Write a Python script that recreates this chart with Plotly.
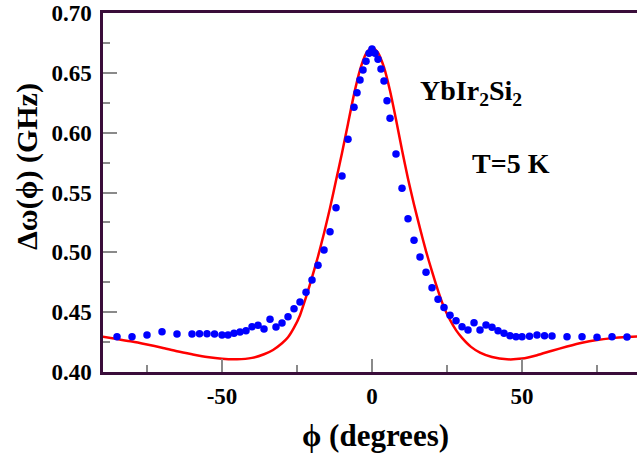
import plotly.graph_objects as go

# measured data (blue dots)
phi_data = [-85, -80, -75, -70, -65, -60, -57.5, -55, -52.5, -50, -48, -46, -44, -42,
            -40, -38, -36, -34, -32, -30, -28, -26, -24, -22, -20, -18, -16, -14,
            -12, -10, -8, -6, -5, -4, -3, -2, -1, 0, 1, 2, 3, 4, 5, 6, 8, 10, 12,
            14, 16, 18, 20, 22, 24, 26, 28, 30, 32, 34, 36, 38, 40, 42, 44, 46, 48,
            50, 52.5, 55, 57.5, 60, 65, 70, 75, 80, 85]
dw_data = [0.4295, 0.4295, 0.4310, 0.4337, 0.4317, 0.4317, 0.4320, 0.4320, 0.4317, 0.4309,
           0.4309, 0.4323, 0.4334, 0.4345, 0.4378, 0.4390, 0.4359, 0.4440, 0.4376, 0.4410,
           0.4462, 0.4529, 0.4585, 0.4666, 0.4769, 0.4892, 0.5019, 0.5172, 0.5373, 0.5638,
           0.5945, 0.6212, 0.6334, 0.6440, 0.6524, 0.6596, 0.6663, 0.6699, 0.6663, 0.6613,
           0.6532, 0.6432, 0.6267, 0.6120, 0.5822, 0.5535, 0.5281, 0.5102, 0.4962, 0.4833,
           0.4704, 0.4608, 0.4538, 0.4475, 0.4429, 0.4378, 0.4351, 0.4412, 0.4351, 0.4393,
           0.4373, 0.4345, 0.4323, 0.4303, 0.4295, 0.4295, 0.4298, 0.4309, 0.4303, 0.4300,
           0.4295, 0.4295, 0.4290, 0.4295, 0.4292]

# model curve (red line)
phi_fit = [-90, -85, -80, -75, -70, -65, -60, -55, -50, -45, -40, -36, -33, -30, -28,
           -26, -24, -22, -20, -18, -16, -14, -12, -10, -8, -6, -4, -2, 0,
           2, 4, 6, 8, 10, 12, 14, 16, 18, 20, 22, 24, 26, 28, 30, 33, 36, 40,
           45, 50, 55, 60, 65, 70, 75, 80, 85, 90]
dw_fit = [0.4295, 0.4275, 0.4255, 0.4230, 0.4203, 0.4173, 0.4148, 0.4125, 0.4110, 0.4106,
          0.4118, 0.4148, 0.4184, 0.4240, 0.4290, 0.4370, 0.4475, 0.4625, 0.4790, 0.4965,
          0.5160, 0.5370, 0.5600, 0.5830, 0.6075, 0.6320, 0.6525, 0.6660, 0.6716,
          0.6668, 0.6545, 0.6350, 0.6110, 0.5855, 0.5615, 0.5400, 0.5200, 0.5010, 0.4840,
          0.4680, 0.4540, 0.4435, 0.4350, 0.4285, 0.4210, 0.4162, 0.4125, 0.4106, 0.4112,
          0.4140, 0.4178, 0.4213, 0.4245, 0.4268, 0.4283, 0.4293, 0.4300]

x_ticks = [-50, 0, 50]
y_ticks = [0.40, 0.45, 0.50, 0.55, 0.60, 0.65, 0.70]
y_ticklabels = ["0.40", "0.45", "0.50", "0.55", "0.60", "0.65", "0.70"]

W, H = 637, 454
ML, MR, MT, MB = 103, 0, 13, 82
FONT = "Liberation Serif"
AXC = "#3a0d3a"
TICKC = "#8a8a8a"

fig = go.Figure()
fig.add_trace(go.Scatter(x=phi_fit, y=dw_fit, mode="lines",
                         line=dict(color="#ff0000", width=2.5, shape="spline", smoothing=0.6),
                         hoverinfo="skip", showlegend=False))
fig.add_trace(go.Scatter(x=phi_data, y=dw_data, mode="markers",
                         marker=dict(color="#0000ff", size=7.5, line=dict(width=0)),
                         showlegend=False))

pw = W - ML - MR
ph = H - MT - MB

def px_x(p):
    return (p - ML) / pw

def px_y(p):
    return 1 - (p - MT) / ph

tickfont = dict(family=FONT, size=23, color="black", weight="bold")

fig.update_layout(
    width=W, height=H,
    margin=dict(l=ML, r=MR, t=MT, b=MB, autoexpand=False),
    paper_bgcolor="white", plot_bgcolor="white",
    font=dict(family=FONT, size=21, color="black", weight="bold"),
    xaxis=dict(range=[-89.67, 88.33], tickmode="array", tickvals=x_ticks,
               ticktext=[str(v) for v in x_ticks], automargin=False,
               showgrid=False, zeroline=False,
               showline=True, linecolor=AXC, linewidth=2.5, mirror=True,
               ticks="inside", ticklen=13, tickwidth=1.5, tickcolor=TICKC,
               ticklabelstandoff=2,
               minor=dict(tickvals=[-75, -25, 25, 75], ticks="inside", ticklen=7,
                          tickwidth=1.5, tickcolor=TICKC, showgrid=False),
               tickfont=tickfont),
    yaxis=dict(range=[0.40, 0.70], tickmode="array", tickvals=y_ticks,
               ticktext=y_ticklabels, automargin=False,
               showgrid=False, zeroline=False,
               showline=True, linecolor=AXC, linewidth=2.5, mirror=False,
               ticks="inside", ticklen=14, tickwidth=1.5, tickcolor=TICKC,
               ticklabelstandoff=4,
               minor=dict(tickvals=[0.425, 0.475, 0.525, 0.575, 0.625, 0.675],
                          ticks="inside", ticklen=7, tickwidth=1.5, tickcolor=TICKC,
                          showgrid=False),
               tickfont=tickfont),
)

def note(text, x, y, size, angle=0):
    fig.add_annotation(text=text, xref="paper", yref="paper",
                       x=px_x(x), y=px_y(y), xanchor="center", yanchor="middle",
                       showarrow=False, textangle=angle, borderpad=0,
                       font=dict(family=FONT, size=size, color="black", weight="bold"))

note("ϕ (degrees)", 375, 435, 31)
note("Δω(ϕ) (GHz)", 27, 167, 30, angle=-90)
note("YbIr<sub>2</sub>Si<sub>2</sub>", 471, 93, 28)
note("T=5 K", 511, 163, 28)

fig.write_html("out.html", config={"displayModeBar": False},
               post_script="document.body.style.margin='0';document.body.style.padding='0';")
